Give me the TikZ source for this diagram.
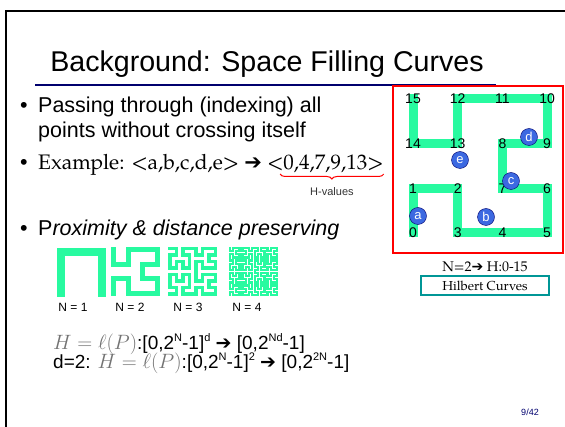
\documentclass[tikz,border=0pt]{standalone}
\usepackage{fontspec}
\setmainfont{Liberation Sans}
\newfontfamily\pal{TeX Gyre Pagella}
\newfontfamily\dejavu{DejaVu Sans}
\usetikzlibrary{positioning,decorations.pathreplacing,lindenmayersystems}
\definecolor{hilgreen}{RGB}{40,250,160}
\definecolor{dotblue}{RGB}{60,105,225}
\definecolor{navyline}{RGB}{0,0,110}
\definecolor{tealbox}{RGB}{0,150,150}
\pgfdeclarelindenmayersystem{Hilbert}{
  \rule{L -> +RF-LFL-FR+}
  \rule{R -> -LF+RFR+FL-}}
\newcommand{\harr}{{\dejavu\bfseries\char"2794}}
\newcommand{\supx}[1]{\raisebox{0.38em}{\fontsize{11}{11}\selectfont #1}}
\begin{document}
\begin{tikzpicture}[x=1pt,y=1pt,
  bullet/.style={anchor=base west,inner sep=0pt,font=\fontsize{21.5}{24}\selectfont},
  gridnum/.style={inner sep=0pt,font=\fontsize{14}{14}\selectfont},
  dot/.style={circle,draw=navyline,fill=dotblue,text=white,inner sep=0pt,
    minimum size=17pt,font=\fontsize{13}{13}\selectfont},
  hilb/.style={draw=hilgreen,line cap=rect,line join=miter},
  nlab/.style={inner sep=0pt,font=\fontsize{12}{12}\selectfont},
  formula/.style={anchor=base west,inner sep=0pt,font=\fontsize{19}{20}\selectfont},
  mathgray/.style={text=black!55}]
\useasboundingbox (0,0) rectangle (565,426);
% slide frame and title
\draw[line width=2.3pt] (6.2,-10) |- (575,414.7);
\node[anchor=base,inner sep=0pt,font=\fontsize{28.6}{30}\selectfont] (title) at (267,354)
  {Background: Space Filling Curves};
\draw[navyline,line width=2.5pt] (35,341) -- (496,341);

% bullets
\node[bullet] (d1) at (20,313) {•};
\node[bullet] (b1) at (38,313) {Passing through (indexing) all};
\node[bullet] (b1b) at (38,288) {points without crossing itself};
\node[bullet] (d2) at (20,256) {•};
\node[bullet,font=\pal\fontsize{21}{24}\selectfont] (b2) at (38,256) {Example: <a,b,c,d,e> \harr};
\node[bullet,font=\pal\fontsize{21}{24}\selectfont,right=5pt of b2.base east,anchor=base west] (hval) {<0,4,7,9,13>};
\draw[red,line width=1pt,decorate,decoration={brace,mirror,amplitude=5pt}]
  ([xshift=13pt,yshift=-4pt]hval.base west) -- ([yshift=-4pt]hval.base east)
  coordinate[midway] (btip);
\node[font=\fontsize{11}{11}\selectfont,text=black!80,below=10pt of btip] (hlab) {H-values};
\node[bullet] (d3) at (20,190) {•};
\node[bullet] (b3) at (38,190) {P\textit{roximity \& distance preserving}};

% small Hilbert curves N=1..4
\draw[hilb,line width=8pt,shift={(61,133)}]
  [l-system={Hilbert,axiom=L,order=1,step=41pt,angle=90}] lindenmayer system;
\draw[hilb,line width=5pt,shift={(113.5,176.5)},rotate=-90]
  [l-system={Hilbert,axiom=L,order=2,step=14.67pt,angle=90}] lindenmayer system;
\draw[hilb,line width=3.5pt,shift={(169.75,177.25)},rotate=-90]
  [l-system={Hilbert,axiom=L,order=3,step=6.5pt,angle=90}] lindenmayer system;
\draw[hilb,line width=2.2pt,shift={(230.1,177.9)},rotate=-90]
  [l-system={Hilbert,axiom=L,order=4,step=3.12pt,angle=90}] lindenmayer system;
\node[nlab] (n1) at (73,119) {N = 1};
\node[nlab] (n2) at (130,119) {N = 2};
\node[nlab] (n3) at (188,119) {N = 3};
\node[nlab] (n4) at (247,119) {N = 4};

% formulas
\node[formula] (f1) at (53,77)
  {\textcolor{black!55}{\fontsize{20}{20}\selectfont$H=\ell(P)$}:[0,2\supx{N}-1]\supx{d} \harr{} [0,2\supx{Nd}-1]};
\node[formula] (f2) at (53,58)
  {d=2: \textcolor{black!55}{\fontsize{20}{20}\selectfont$H=\ell(P)$}:[0,2\supx{N}-1]\supx{2} \harr{} [0,2\supx{2N}-1]};

% example Hilbert curve N=2
\draw[red,line width=2pt] (393,173) rectangle (563,340);
\foreach \k/\i/\j in {0/0/0,1/0/1,2/1/1,3/1/0,4/2/0,5/3/0,6/3/1,7/2/1,
                      8/2/2,9/3/2,10/3/3,11/2/3,12/1/3,13/1/2,14/0/2,15/0/3}
  \coordinate (p\k) at (413+44.7*\i,193+44.7*\j);
\draw[hilb,line width=9pt] (p0) \foreach \k in {1,...,15} {-- (p\k)};
\foreach \k in {0,...,15}
  \node[gridnum] (h\k) at (p\k) {\k};
\node[dot] (a) at (418,210) {a};
\node[dot] (b) at (486,209) {b};
\node[dot] (c) at (511,245) {c};
\node[dot] (d) at (529,289) {d};
\node[dot] (e) at (460,266) {e};
\node[inner sep=0pt,font=\pal\fontsize{14}{16}\selectfont] (nrange) at (485,159) {N=2\harr{} H:0-15};
\node[draw=tealbox,line width=1.5pt,minimum width=128pt,minimum height=19pt,inner sep=0pt,
  font=\pal\fontsize{13}{15}\selectfont] (hcap) at (485,140.5) {Hilbert Curves};

\node[inner sep=0pt,font=\fontsize{9}{9}\selectfont,text=navyline] (pg) at (530,14) {9/42};
\end{tikzpicture}
\end{document}
